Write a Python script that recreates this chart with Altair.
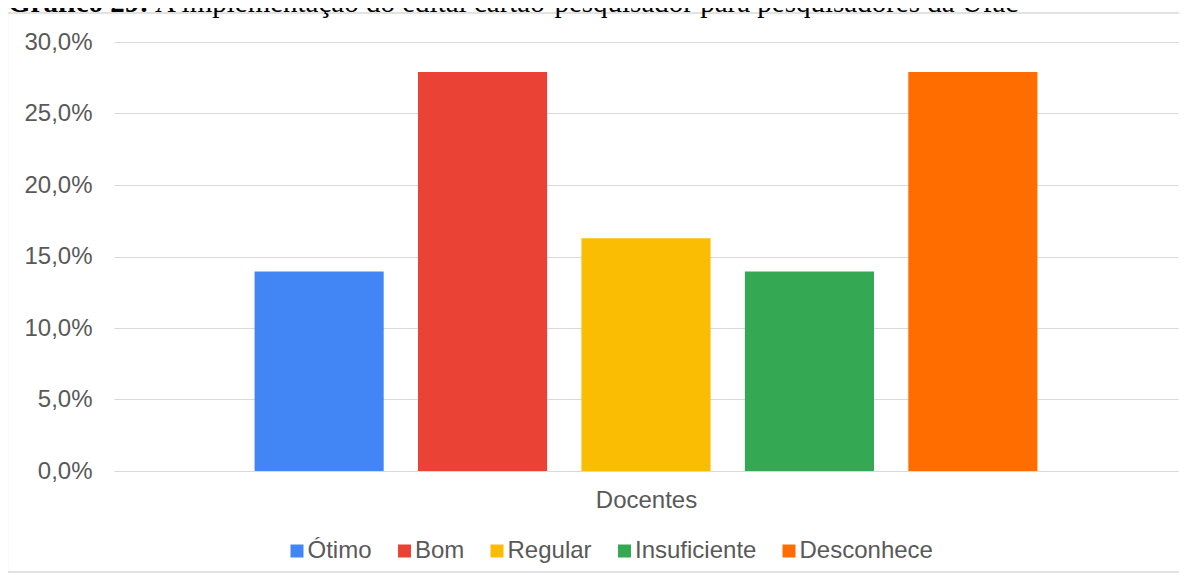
import altair as alt
import pandas as pd

categories = ["Ótimo", "Bom", "Regular", "Insuficiente", "Desconhece"]
values = [0.1395, 0.2791, 0.1628, 0.1395, 0.2791]
colors = ["#4285F4", "#EA4335", "#FBBC04", "#34A853", "#FF6D01"]
group_label = "Docentes"
y_ticks = [0, 0.05, 0.10, 0.15, 0.20, 0.25, 0.30]
title_bold = "Gráfico 29:"
title_rest = "A implementação do edital cartão-pesquisador para pesquisadores da Ufac"

df = pd.DataFrame({"categoria": categories, "valor": values})
one = pd.DataFrame({"k": [0]})

W, H = 1064, 429
FONT = "Liberation Sans"
SERIF = "Liberation Serif"
GRAY = "#595959"
FS = 24

frame = alt.Chart(one).mark_rect(fillOpacity=0, stroke="#d9d9d9", strokeWidth=1.3).encode(
    x=alt.value(-106.5), x2=alt.value(1100), y=alt.value(-29), y2=alt.value(530)
)

t1 = alt.Chart(one).mark_text(
    font=SERIF, fontSize=29, fontWeight="bold", align="left", baseline="alphabetic", color="#000000"
).encode(x=alt.value(-106), y=alt.value(-30.5), text=alt.value(title_bold))

t2 = alt.Chart(one).mark_text(
    font=SERIF, fontSize=29, align="left", baseline="alphabetic", color="#000000"
).encode(x=alt.value(41), y=alt.value(-30.5), text=alt.value(title_rest))

bars = alt.Chart(df).mark_bar().encode(
    x=alt.X(
        "categoria:N", sort=categories,
        scale=alt.Scale(paddingInner=0.21, paddingOuter=0.86),
        axis=alt.Axis(labels=False, ticks=False, domain=False, grid=False, title=group_label,
                      titleFont=FONT, titleFontSize=FS, titleFontWeight="normal",
                      titleColor=GRAY, titlePadding=17),
    ),
    y=alt.Y(
        "valor:Q", scale=alt.Scale(domain=[0, 0.3], nice=False),
        axis=alt.Axis(values=y_ticks, labelExpr="replace(format(datum.value, '.1%'), '.', ',')",
                      domain=False, ticks=False, grid=True, gridColor="#d9d9d9", gridWidth=1.2,
                      labelFont=FONT, labelFontSize=FS, labelColor=GRAY, labelPadding=22, title=None),
    ),
    color=alt.Color(
        "categoria:N", sort=categories,
        scale=alt.Scale(domain=categories, range=colors),
        legend=alt.Legend(orient="none", legendX=171, legendY=497, direction="horizontal", title=None,
                          symbolType="square", symbolSize=169, symbolStrokeWidth=0,
                          labelFont=FONT, labelFontSize=FS, labelColor=GRAY,
                          labelOffset={"expr": "-1.5"},
                          columnPadding=20.5, padding=0),
    ),
)

chart = alt.layer(frame, t1, t2, bars).properties(
    width=W, height=H,
    autosize=alt.AutoSizeParams(type="none"),
    padding={"left": 106, "top": 34, "right": 1, "bottom": 102},
).configure_view(stroke=None)

chart.save("out.html", embed_options={"renderer": "svg", "actions": False})
